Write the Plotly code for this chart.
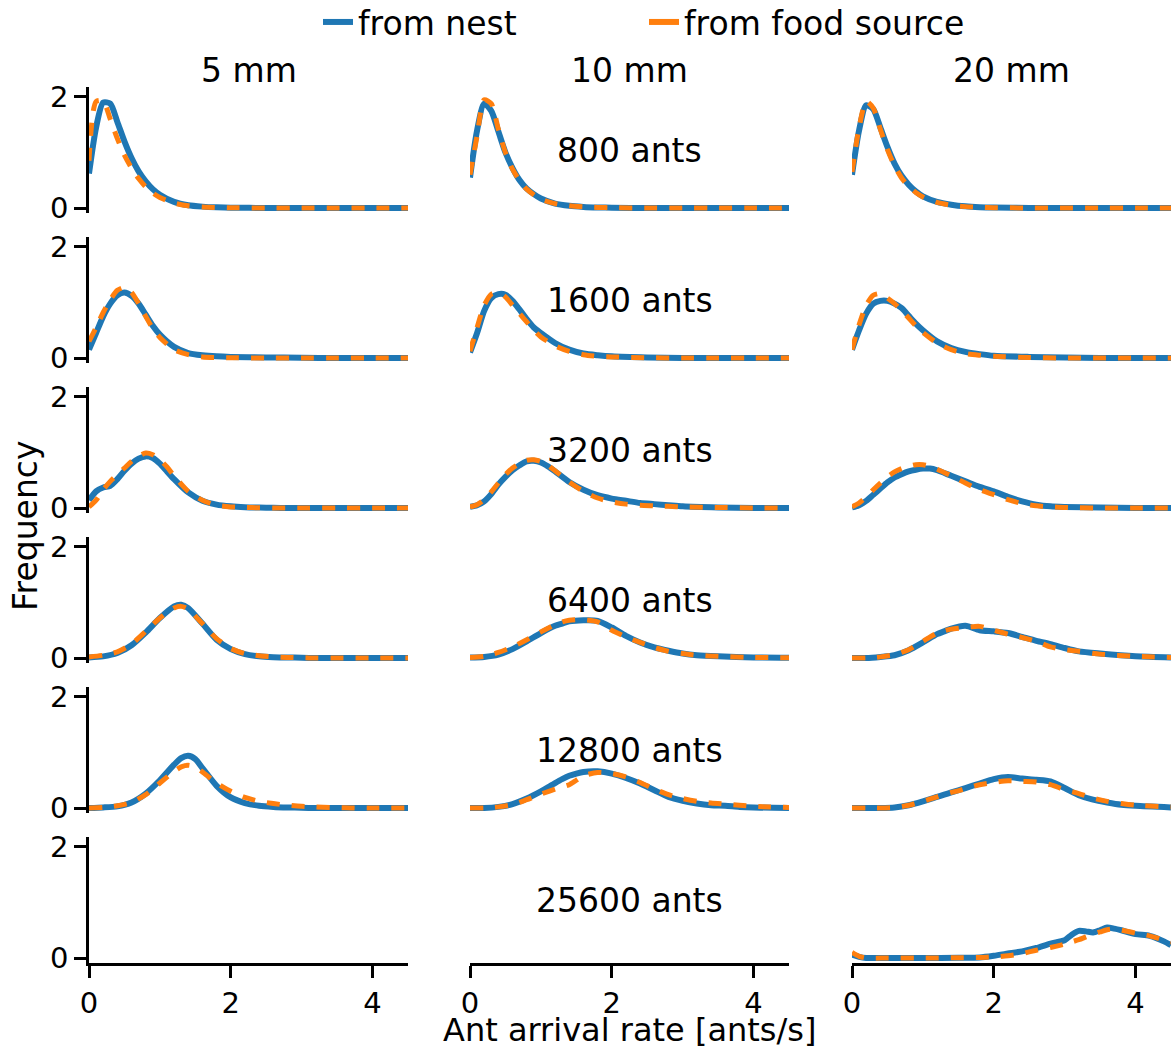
import plotly.graph_objects as go
from plotly.subplots import make_subplots

# ---------------- data ----------------
col_titles = ["5 mm", "10 mm", "20 mm"]
row_labels = ["800 ants", "1600 ants", "3200 ants", "6400 ants", "12800 ants", "25600 ants"]
series_names = ["from nest", "from food source"]
x_ticks = [0, 2, 4]
y_ticks = [0, 2]

# 800 ants
x_800 = [0, 0.1, 0.2, 0.3, 0.4, 0.5, 0.6, 0.7, 0.8, 0.9, 1.0, 1.2, 1.4, 1.6, 1.8, 2.0, 2.5, 3.0, 3.5, 4.0, 4.5]
nest_5mm_800 = [0.62, 1.45, 1.9, 1.88, 1.55, 1.2, 0.9, 0.66, 0.48, 0.34, 0.24, 0.11, 0.05, 0.025, 0.012, 0.006, 0, 0, 0, 0, 0]
food_5mm_800 = [0.85, 1.92, 1.93, 1.6, 1.25, 0.95, 0.72, 0.53, 0.38, 0.27, 0.19, 0.09, 0.04, 0.02, 0.01, 0.005, 0, 0, 0, 0, 0]
nest_10mm_800 = [0.55, 1.4, 1.88, 1.75, 1.38, 1.0, 0.72, 0.5, 0.35, 0.25, 0.17, 0.08, 0.04, 0.02, 0.01, 0.005, 0, 0, 0, 0, 0]
food_10mm_800 = [0.6, 1.3, 1.95, 1.88, 1.42, 1.0, 0.7, 0.49, 0.34, 0.24, 0.16, 0.08, 0.04, 0.02, 0.01, 0.005, 0, 0, 0, 0, 0]
nest_20mm_800 = [0.6, 1.4, 1.85, 1.78, 1.45, 1.1, 0.8, 0.58, 0.42, 0.3, 0.21, 0.11, 0.06, 0.03, 0.015, 0.008, 0.002, 0, 0, 0, 0]
food_20mm_800 = [0.65, 1.45, 1.92, 1.8, 1.42, 1.05, 0.76, 0.54, 0.39, 0.28, 0.2, 0.1, 0.05, 0.025, 0.012, 0.006, 0, 0, 0, 0, 0]

# 1600 ants
x_1600 = [0, 0.1, 0.2, 0.3, 0.4, 0.5, 0.6, 0.7, 0.8, 0.9, 1.0, 1.2, 1.4, 1.6, 1.8, 2.0, 2.5, 3.0, 3.5, 4.0, 4.5]
nest_5mm_1600 = [0.15, 0.45, 0.75, 0.98, 1.13, 1.18, 1.12, 0.98, 0.78, 0.58, 0.42, 0.2, 0.09, 0.05, 0.03, 0.02, 0.01, 0.005, 0, 0, 0]
food_5mm_1600 = [0.3, 0.55, 0.82, 1.05, 1.22, 1.27, 1.18, 0.98, 0.75, 0.53, 0.37, 0.15, 0.06, 0.02, 0.01, 0.005, 0, 0, 0, 0, 0]
nest_10mm_1600 = [0.1, 0.45, 0.85, 1.08, 1.15, 1.14, 1.03, 0.87, 0.7, 0.55, 0.45, 0.27, 0.15, 0.08, 0.05, 0.03, 0.01, 0, 0, 0, 0]
food_10mm_1600 = [0.12, 0.55, 0.95, 1.15, 1.18, 1.1, 0.95, 0.8, 0.65, 0.5, 0.38, 0.22, 0.12, 0.06, 0.03, 0.02, 0.005, 0, 0, 0, 0]
nest_20mm_1600 = [0.15, 0.5, 0.8, 0.98, 1.03, 1.03, 0.98, 0.9, 0.76, 0.62, 0.5, 0.3, 0.18, 0.11, 0.07, 0.04, 0.02, 0.01, 0, 0, 0]
food_20mm_1600 = [0.15, 0.6, 0.95, 1.13, 1.16, 1.08, 0.98, 0.86, 0.72, 0.58, 0.46, 0.27, 0.15, 0.08, 0.05, 0.03, 0.01, 0, 0, 0, 0]

# 3200 ants
x_3200 = [0, 0.1, 0.2, 0.3, 0.4, 0.5, 0.6, 0.7, 0.8, 0.9, 1.0, 1.1, 1.2, 1.4, 1.6, 1.8, 2.0, 2.2, 2.4, 2.6, 2.8, 3.0, 3.5, 4.0, 4.5]
nest_5mm_3200 = [0.14, 0.3, 0.37, 0.4, 0.52, 0.67, 0.8, 0.89, 0.93, 0.9, 0.8, 0.66, 0.52, 0.28, 0.13, 0.06, 0.03, 0.015, 0.008, 0.004, 0, 0, 0, 0, 0]
food_5mm_3200 = [0.02, 0.14, 0.33, 0.48, 0.6, 0.72, 0.84, 0.93, 0.99, 0.96, 0.87, 0.74, 0.58, 0.3, 0.14, 0.05, 0.02, 0.01, 0.005, 0, 0, 0, 0, 0, 0]
nest_10mm_3200 = [0.02, 0.05, 0.12, 0.25, 0.42, 0.56, 0.68, 0.77, 0.84, 0.85, 0.82, 0.75, 0.66, 0.47, 0.33, 0.23, 0.17, 0.13, 0.09, 0.07, 0.05, 0.03, 0.01, 0, 0]
food_10mm_3200 = [0.02, 0.06, 0.15, 0.29, 0.45, 0.6, 0.72, 0.8, 0.86, 0.87, 0.84, 0.77, 0.67, 0.47, 0.3, 0.18, 0.11, 0.07, 0.05, 0.04, 0.03, 0.02, 0.01, 0, 0]
nest_20mm_3200 = [0.01, 0.05, 0.13, 0.24, 0.35, 0.46, 0.55, 0.61, 0.66, 0.69, 0.71, 0.71, 0.68, 0.58, 0.48, 0.38, 0.3, 0.2, 0.12, 0.06, 0.03, 0.02, 0.01, 0, 0]
food_20mm_3200 = [0.02, 0.09, 0.2, 0.33, 0.45, 0.56, 0.65, 0.71, 0.75, 0.78, 0.78, 0.75, 0.7, 0.58, 0.45, 0.33, 0.24, 0.15, 0.08, 0.04, 0.02, 0.01, 0, 0, 0]

# 6400 ants
x_6400 = [0, 0.2, 0.4, 0.6, 0.8, 1.0, 1.2, 1.3, 1.4, 1.6, 1.8, 2.0, 2.2, 2.4, 2.6, 2.8, 3.0, 3.2, 3.5, 4.0, 4.5]
nest_5mm_6400 = [0.01, 0.03, 0.09, 0.23, 0.46, 0.72, 0.93, 0.96, 0.9, 0.62, 0.33, 0.16, 0.07, 0.03, 0.015, 0.01, 0.005, 0, 0, 0, 0]
food_5mm_6400 = [0.02, 0.05, 0.11, 0.25, 0.48, 0.72, 0.9, 0.93, 0.88, 0.62, 0.35, 0.17, 0.08, 0.04, 0.02, 0.01, 0.005, 0, 0, 0, 0]
nest_10mm_6400 = [0.01, 0.02, 0.06, 0.16, 0.3, 0.45, 0.58, 0.62, 0.66, 0.68, 0.67, 0.55, 0.4, 0.28, 0.19, 0.13, 0.08, 0.05, 0.03, 0.01, 0.005]
food_10mm_6400 = [0.01, 0.03, 0.1, 0.2, 0.33, 0.47, 0.6, 0.65, 0.68, 0.69, 0.65, 0.5, 0.38, 0.28, 0.19, 0.12, 0.08, 0.05, 0.03, 0.01, 0.005]
nest_20mm_6400 = [0.0, 0.0, 0.02, 0.05, 0.14, 0.28, 0.43, 0.48, 0.53, 0.58, 0.5, 0.48, 0.45, 0.38, 0.31, 0.25, 0.18, 0.12, 0.08, 0.03, 0.01]
food_20mm_6400 = [0.0, 0.0, 0.02, 0.06, 0.15, 0.3, 0.45, 0.49, 0.52, 0.55, 0.57, 0.5, 0.43, 0.37, 0.3, 0.2, 0.15, 0.12, 0.07, 0.03, 0.01]

# 12800 ants
x_12800 = [0, 0.2, 0.4, 0.6, 0.8, 1.0, 1.2, 1.3, 1.4, 1.5, 1.6, 1.8, 2.0, 2.2, 2.4, 2.6, 2.8, 3.0, 3.2, 3.4, 3.6, 3.8, 4.0, 4.5]
nest_5mm_12800 = [0, 0.01, 0.03, 0.1, 0.26, 0.5, 0.78, 0.9, 0.94, 0.88, 0.72, 0.4, 0.19, 0.09, 0.04, 0.02, 0.01, 0.005, 0, 0, 0, 0, 0, 0]
food_5mm_12800 = [0, 0.01, 0.04, 0.1, 0.24, 0.45, 0.66, 0.74, 0.77, 0.74, 0.65, 0.45, 0.3, 0.19, 0.12, 0.08, 0.05, 0.03, 0.02, 0.01, 0.005, 0, 0, 0]
nest_10mm_12800 = [0, 0, 0.02, 0.07, 0.17, 0.3, 0.45, 0.52, 0.58, 0.62, 0.65, 0.66, 0.62, 0.54, 0.44, 0.32, 0.2, 0.13, 0.08, 0.05, 0.04, 0.02, 0.01, 0]
food_10mm_12800 = [0, 0, 0.02, 0.06, 0.15, 0.25, 0.34, 0.38, 0.42, 0.5, 0.58, 0.64, 0.62, 0.56, 0.46, 0.34, 0.24, 0.17, 0.12, 0.09, 0.07, 0.05, 0.03, 0.01]
nest_20mm_12800 = [0, 0, 0, 0.01, 0.05, 0.12, 0.2, 0.24, 0.28, 0.32, 0.36, 0.44, 0.52, 0.56, 0.53, 0.51, 0.48, 0.36, 0.23, 0.15, 0.1, 0.06, 0.04, 0.01]
food_20mm_12800 = [0, 0, 0, 0.01, 0.05, 0.12, 0.2, 0.24, 0.28, 0.31, 0.35, 0.42, 0.46, 0.49, 0.48, 0.47, 0.42, 0.33, 0.26, 0.18, 0.12, 0.08, 0.05, 0.02]

# 25600 ants (only 20 mm)
x_25600 = [0, 0.1, 0.2, 0.5, 1.0, 1.5, 1.8, 2.0, 2.2, 2.4, 2.6, 2.8, 3.0, 3.1, 3.2, 3.3, 3.4, 3.5, 3.6, 3.7, 3.8, 4.0, 4.2, 4.4, 4.5]
nest_20mm_25600 = [0.06, 0.02, 0.0, 0.0, 0.0, 0.005, 0.01, 0.04, 0.08, 0.12, 0.18, 0.26, 0.32, 0.42, 0.49, 0.48, 0.46, 0.5, 0.55, 0.53, 0.5, 0.43, 0.4, 0.3, 0.23]
food_20mm_25600 = [0.1, 0.03, 0.0, 0.0, 0.0, 0.005, 0.01, 0.02, 0.04, 0.08, 0.14, 0.19, 0.25, 0.29, 0.33, 0.38, 0.43, 0.47, 0.51, 0.52, 0.5, 0.45, 0.4, 0.32, 0.28]

panels = [
    (1, 1, x_800, nest_5mm_800, food_5mm_800),
    (1, 2, x_800, nest_10mm_800, food_10mm_800),
    (1, 3, x_800, nest_20mm_800, food_20mm_800),
    (2, 1, x_1600, nest_5mm_1600, food_5mm_1600),
    (2, 2, x_1600, nest_10mm_1600, food_10mm_1600),
    (2, 3, x_1600, nest_20mm_1600, food_20mm_1600),
    (3, 1, x_3200, nest_5mm_3200, food_5mm_3200),
    (3, 2, x_3200, nest_10mm_3200, food_10mm_3200),
    (3, 3, x_3200, nest_20mm_3200, food_20mm_3200),
    (4, 1, x_6400, nest_5mm_6400, food_5mm_6400),
    (4, 2, x_6400, nest_10mm_6400, food_10mm_6400),
    (4, 3, x_6400, nest_20mm_6400, food_20mm_6400),
    (5, 1, x_12800, nest_5mm_12800, food_5mm_12800),
    (5, 2, x_12800, nest_10mm_12800, food_10mm_12800),
    (5, 3, x_12800, nest_20mm_12800, food_20mm_12800),
    (6, 3, x_25600, nest_20mm_25600, food_20mm_25600),
]
empty_panels = [(6, 1), (6, 2)]

# ---------------- figure ----------------
W, H = 1171, 1051
ML, MR, MT, MB = 89, 0, 87, 86
PW, PH = W - ML - MR, H - MT - MB
FONT = "DejaVu Sans"
BLUE, ORANGE = "#1f77b4", "#ff7f0e"

fig = make_subplots(rows=6, cols=3)

for r, c, xs, nest, food in panels:
    fig.add_trace(go.Scatter(x=xs, y=nest, mode="lines", name=series_names[0], legendgroup="nest",
                             showlegend=False, hoverinfo="x+y",
                             line=dict(color=BLUE, width=6, shape="spline", smoothing=0.7)),
                  row=r, col=c)
    fig.add_trace(go.Scatter(x=xs, y=food, mode="lines", name=series_names[1], legendgroup="food",
                             showlegend=False, hoverinfo="x+y",
                             line=dict(color=ORANGE, width=5, dash="13px,12px",
                                       shape="spline", smoothing=0.7)),
                  row=r, col=c)

# empty panels still get their axes
for r, c in empty_panels:
    fig.add_trace(go.Scatter(x=[None], y=[None], mode="lines", showlegend=False, hoverinfo="skip"),
                  row=r, col=c)

# legend entries (solid handles, as in the reference)
fig.add_trace(go.Scatter(x=[None], y=[None], mode="lines", name=series_names[0], legendgroup="nest",
                         line=dict(color=BLUE, width=6)), row=1, col=1)
fig.add_trace(go.Scatter(x=[None], y=[None], mode="lines", name=series_names[1], legendgroup="food",
                         line=dict(color=ORANGE, width=6)), row=1, col=1)

col_px = [(89, 408), (470, 789), (852, 1171)]
for r in range(1, 7):
    top = MT + 150 * (r - 1)
    bot = top + 126
    ydom = [1 - (bot - MT) / PH, 1 - (top - MT) / PH]
    for c in range(1, 4):
        idx = (r - 1) * 3 + c
        xa = "xaxis" if idx == 1 else f"xaxis{idx}"
        ya = "yaxis" if idx == 1 else f"yaxis{idx}"
        x0, x1 = col_px[c - 1]
        xdom = [(x0 - ML) / PW, (x1 - ML) / PW]
        show_x = (r == 6)
        show_y = (c == 1)
        fig.layout[xa].update(domain=xdom, range=[0, 4.5], showgrid=False, zeroline=False,
                              showline=show_x, linecolor="black", linewidth=2.6,
                              ticks="outside" if show_x else "", ticklen=12, tickwidth=2.6,
                              tickcolor="black", tickvals=x_ticks, showticklabels=show_x,
                              tickfont=dict(size=29, family=FONT, color="black"))
        fig.layout[ya].update(domain=ydom, range=[-0.09, 2.18], showgrid=False, zeroline=False,
                              showline=show_y, linecolor="black", linewidth=2.6,
                              ticks="outside" if show_y else "", ticklen=12, tickwidth=2.6,
                              tickcolor="black", tickvals=y_ticks, showticklabels=show_y,
                              tickfont=dict(size=29, family=FONT, color="black"))

annotations = []
for c, t in enumerate(col_titles):
    x0, x1 = col_px[c]
    annotations.append(dict(text=t, xref="paper", yref="paper", x=((x0 + x1) / 2 - ML) / PW,
                            y=1 + (MT - 70) / PH, xanchor="center", yanchor="middle", showarrow=False,
                            font=dict(size=33, family=FONT, color="black")))
for r, t in enumerate(row_labels):
    idx = r * 3 + 2
    annotations.append(dict(text=t, xref=f"x{idx} domain", yref=f"y{idx} domain", x=0.5, y=0.5,
                            xanchor="center", yanchor="middle", showarrow=False,
                            font=dict(size=33, family=FONT, color="black")))
annotations.append(dict(text="Frequency", xref="paper", yref="paper", x=(25 - ML) / PW, y=0.5,
                        textangle=-90, xanchor="center", yanchor="middle", showarrow=False,
                        font=dict(size=33, family=FONT, color="black")))
annotations.append(dict(text="Ant arrival rate [ants/s]", xref="paper", yref="paper",
                        x=(629 - ML) / PW, y=-(1050 - (MT + PH)) / PH, xanchor="center",
                        yanchor="bottom", showarrow=False, borderpad=0,
                        font=dict(size=32, family=FONT, color="black")))

fig.update_layout(
    width=W, height=H, margin=dict(l=ML, r=MR, t=MT, b=MB, autoexpand=False),
    paper_bgcolor="white", plot_bgcolor="white",
    font=dict(family=FONT, color="black"),
    annotations=annotations,
    legend=dict(orientation="h", x=(318 - ML) / PW, xanchor="left", y=1 + (MT - 22) / PH,
                yanchor="middle", font=dict(size=33, family=FONT, color="black"),
                entrywidth=281, bgcolor="rgba(0,0,0,0)"),
)

fig.write_html("out.html")
